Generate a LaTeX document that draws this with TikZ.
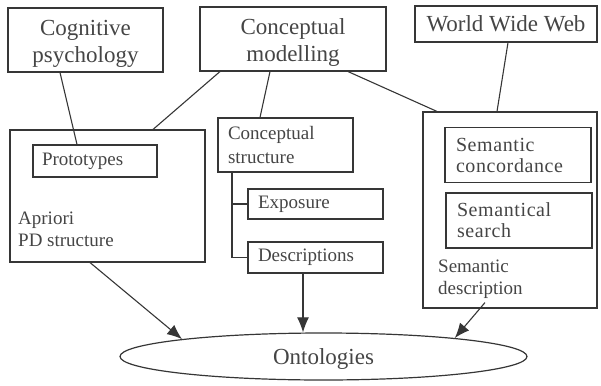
\documentclass[tikz,border=0pt]{standalone}
\usepackage{fontspec}
\setmainfont{Liberation Serif}
\newfontfamily\tmsfont{Liberation Serif}
\usetikzlibrary{arrows.meta,shapes.geometric}
\definecolor{ink}{HTML}{363636}
\definecolor{txt}{HTML}{454545}

\begin{document}
\begin{tikzpicture}[x=1pt,y=-1pt,
  box/.style={draw=ink, line width=1.1pt, inner sep=0pt, text=txt},
  toptext/.style={text=txt, inner sep=0pt, align=center, font=\tmsfont\fontsize{23}{27}\selectfont},
  topbox/.style={box, font=\tmsfont\fontsize{23}{27}\selectfont, align=center},
  subbox/.style={box, font=\tmsfont\fontsize{19}{24}\selectfont, align=left,
    inner xsep=10pt, text width=#1},
  wwwbox/.style={box, font=\tmsfont\fontsize{20}{21}\selectfont\addfontfeature{LetterSpace=3},
    align=left, inner xsep=11pt, text width=124pt, minimum height=55pt},
  plain/.style={text=txt, inner sep=0pt, align=left, font=\tmsfont\fontsize{19}{22}\selectfont},
  link/.style={draw=ink, line width=1.1pt},
  flow/.style={link, -{Latex[length=15pt,width=12pt]}}
]
\useasboundingbox (0,0) rectangle (601,385);

% source disciplines
\node[box, minimum width=155pt, minimum height=64pt] (cog) at (85.5,40) {};
\node[toptext] (cogtext) at ([yshift=-4pt]cog.center) {Cognitive\\psychology};
\node[box, minimum width=186pt, minimum height=64pt] (cm) at (293,39) {};
\node[toptext] (cmtext) at ([yshift=-4pt]cm.center) {Conceptual\\modelling};
\node[topbox, minimum width=182pt, minimum height=36pt] (www) at (506,24) {World Wide Web};

% left container
\node[box, minimum width=195pt, minimum height=132pt] (pd) at (107.5,196) {};
\node[subbox=106pt, inner xsep=9pt, minimum height=32pt] (proto) at (95,161) {Prototypes};
\node[plain, anchor=north west] (pdlabel) at (18,212) {Apriori\\PD structure};

% middle column
\node[subbox=115pt, minimum height=54pt] (cs) at (285.5,145) {Conceptual\\structure};
\node[subbox=115pt, minimum height=30pt] (expo) at (315.5,204) {Exposure};
\node[subbox=115pt, minimum height=31pt] (desc) at (315.5,257.5) {Descriptions};
\coordinate (trunk) at (232,172);
\draw[link] (trunk) |- (desc.west);
\draw[link] (trunk |- expo.west) -- (expo.west);

% right container
\node[box, minimum width=174pt, minimum height=196pt] (sd) at (510,210) {};
\node[wwwbox] (conc) at (518,155) {Semantic\\concordance};
\node[wwwbox] (search) at (519,220.5) {Semantical\\search};
\node[plain, anchor=north west] (sdlabel) at (438,260) {Semantic\\description};

% result
\node[draw=ink, line width=1.2pt, ellipse, minimum width=407pt, minimum height=47pt,
  inner sep=0pt, text=txt, text height=21.6pt, text depth=5pt,
  font=\tmsfont\fontsize{23}{27}\selectfont] (ont) at (323.5,356.5) {Ontologies};

% plain links
\draw[link] ([xshift=-25.5pt]cog.south) -- ([xshift=-18pt]proto.north);
\draw[link] ([xshift=-73pt]cm.south) -- ([xshift=45.5pt]pd.north);
\draw[link] ([xshift=-23pt]cm.south) -- ([xshift=-25.5pt]cs.north);
\draw[link] ([xshift=55pt]cm.south) -- ([xshift=-73pt]sd.north);
\draw[link] ([xshift=2pt]www.south) -- ([xshift=-13pt]sd.north);

% arrows into the ontology
\draw[flow] ([xshift=-17.5pt]pd.south) -- (ont.173.4);
\draw[flow] ([xshift=-12.5pt]desc.south) -- ([xshift=-12.5pt]desc.south |- ont.north);
\draw[flow] ([xshift=-25pt,yshift=6pt]sd.south) -- (ont.8.3);
\end{tikzpicture}
\end{document}
